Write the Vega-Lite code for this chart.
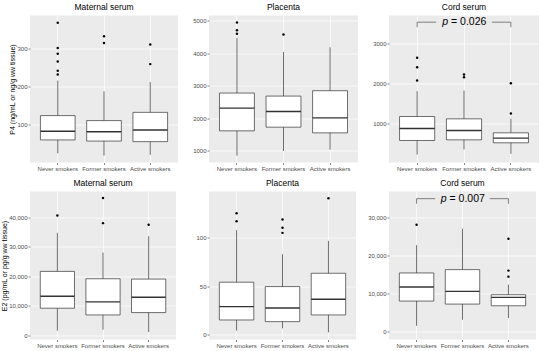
{
  "$schema": "https://vega.github.io/schema/vega-lite/v6.json",
  "padding": {"left": 0, "top": 2.5, "right": 2, "bottom": 4},
  "background": "#FFFFFF",
  "datasets": {
    "all": [
      {"kind":"box","measure":"P4","tissue":"Maternal serum","group":"Never smokers","lower":25,"q1":60,"median":82.5,"q3":123.5,"upper":215},
      {"kind":"box","measure":"P4","tissue":"Maternal serum","group":"Former smokers","lower":19,"q1":57,"median":81.5,"q3":110.5,"upper":187},
      {"kind":"box","measure":"P4","tissue":"Maternal serum","group":"Active smokers","lower":21,"q1":55.5,"median":86,"q3":132,"upper":211},
      {"kind":"box","measure":"P4","tissue":"Placenta","group":"Never smokers","lower":856,"q1":1617,"median":2315,"q3":2778,"upper":4474},
      {"kind":"box","measure":"P4","tissue":"Placenta","group":"Former smokers","lower":1000,"q1":1730,"median":2213,"q3":2685,"upper":4042},
      {"kind":"box","measure":"P4","tissue":"Placenta","group":"Active smokers","lower":1041,"q1":1555,"median":2017,"q3":2850,"upper":4186},
      {"kind":"box","measure":"P4","tissue":"Cord serum","group":"Never smokers","lower":228,"q1":577,"median":876,"q3":1174,"upper":1805},
      {"kind":"box","measure":"P4","tissue":"Cord serum","group":"Former smokers","lower":353,"q1":593,"median":826,"q3":1116,"upper":1822},
      {"kind":"box","measure":"P4","tissue":"Cord serum","group":"Active smokers","lower":245,"q1":519,"median":635,"q3":768,"upper":1116},
      {"kind":"box","measure":"E2","tissue":"Maternal serum","group":"Never smokers","lower":1591,"q1":9205,"median":13295,"q3":21705,"upper":34773},
      {"kind":"box","measure":"E2","tissue":"Maternal serum","group":"Former smokers","lower":1932,"q1":6932,"median":11364,"q3":19205,"upper":28068},
      {"kind":"box","measure":"E2","tissue":"Maternal serum","group":"Active smokers","lower":1136,"q1":7727,"median":12955,"q3":19091,"upper":33636},
      {"kind":"box","measure":"E2","tissue":"Placenta","group":"Never smokers","lower":4.1,"q1":15.1,"median":28.9,"q3":54,"upper":107.6},
      {"kind":"box","measure":"E2","tissue":"Placenta","group":"Former smokers","lower":6.5,"q1":13.4,"median":27.5,"q3":49.5,"upper":82.8},
      {"kind":"box","measure":"E2","tissue":"Placenta","group":"Active smokers","lower":2.4,"q1":20.3,"median":36.4,"q3":63.2,"upper":96.6},
      {"kind":"box","measure":"E2","tissue":"Cord serum","group":"Never smokers","lower":1575,"q1":8049,"median":11724,"q3":15398,"upper":22660},
      {"kind":"box","measure":"E2","tissue":"Cord serum","group":"Former smokers","lower":3150,"q1":7262,"median":10586,"q3":16273,"upper":26947},
      {"kind":"box","measure":"E2","tissue":"Cord serum","group":"Active smokers","lower":3587,"q1":6824,"median":9011,"q3":9711,"upper":12336},
      {"kind":"outlier","measure":"P4","tissue":"Maternal serum","group":"Never smokers","value":366},
      {"kind":"outlier","measure":"P4","tissue":"Maternal serum","group":"Never smokers","value":300},
      {"kind":"outlier","measure":"P4","tissue":"Maternal serum","group":"Never smokers","value":285},
      {"kind":"outlier","measure":"P4","tissue":"Maternal serum","group":"Never smokers","value":265},
      {"kind":"outlier","measure":"P4","tissue":"Maternal serum","group":"Never smokers","value":240.6},
      {"kind":"outlier","measure":"P4","tissue":"Maternal serum","group":"Never smokers","value":231},
      {"kind":"outlier","measure":"P4","tissue":"Maternal serum","group":"Former smokers","value":331},
      {"kind":"outlier","measure":"P4","tissue":"Maternal serum","group":"Former smokers","value":313},
      {"kind":"outlier","measure":"P4","tissue":"Maternal serum","group":"Active smokers","value":309},
      {"kind":"outlier","measure":"P4","tissue":"Maternal serum","group":"Active smokers","value":258},
      {"kind":"outlier","measure":"P4","tissue":"Placenta","group":"Never smokers","value":4947},
      {"kind":"outlier","measure":"P4","tissue":"Placenta","group":"Never smokers","value":4710},
      {"kind":"outlier","measure":"P4","tissue":"Placenta","group":"Never smokers","value":4597},
      {"kind":"outlier","measure":"P4","tissue":"Placenta","group":"Former smokers","value":4577},
      {"kind":"outlier","measure":"P4","tissue":"Cord serum","group":"Never smokers","value":2635},
      {"kind":"outlier","measure":"P4","tissue":"Cord serum","group":"Never smokers","value":2402},
      {"kind":"outlier","measure":"P4","tissue":"Cord serum","group":"Never smokers","value":2071},
      {"kind":"outlier","measure":"P4","tissue":"Cord serum","group":"Former smokers","value":2220},
      {"kind":"outlier","measure":"P4","tissue":"Cord serum","group":"Former smokers","value":2153},
      {"kind":"outlier","measure":"P4","tissue":"Cord serum","group":"Active smokers","value":2004},
      {"kind":"outlier","measure":"P4","tissue":"Cord serum","group":"Active smokers","value":1249},
      {"kind":"outlier","measure":"E2","tissue":"Maternal serum","group":"Never smokers","value":40682},
      {"kind":"outlier","measure":"E2","tissue":"Maternal serum","group":"Former smokers","value":46591},
      {"kind":"outlier","measure":"E2","tissue":"Maternal serum","group":"Former smokers","value":38068},
      {"kind":"outlier","measure":"E2","tissue":"Maternal serum","group":"Active smokers","value":37500},
      {"kind":"outlier","measure":"E2","tissue":"Placenta","group":"Never smokers","value":125},
      {"kind":"outlier","measure":"E2","tissue":"Placenta","group":"Never smokers","value":116.8},
      {"kind":"outlier","measure":"E2","tissue":"Placenta","group":"Former smokers","value":118.6},
      {"kind":"outlier","measure":"E2","tissue":"Placenta","group":"Former smokers","value":110},
      {"kind":"outlier","measure":"E2","tissue":"Placenta","group":"Former smokers","value":104.8},
      {"kind":"outlier","measure":"E2","tissue":"Placenta","group":"Active smokers","value":140.5},
      {"kind":"outlier","measure":"E2","tissue":"Cord serum","group":"Never smokers","value":27997},
      {"kind":"outlier","measure":"E2","tissue":"Cord serum","group":"Active smokers","value":24322},
      {"kind":"outlier","measure":"E2","tissue":"Cord serum","group":"Active smokers","value":16010},
      {"kind":"outlier","measure":"E2","tissue":"Cord serum","group":"Active smokers","value":14436},
      {"kind":"bracket","measure":"P4","tissue":"Cord serum","start":"Never smokers","end":"Active smokers","y":3523,"tip":3398,"symbol":"p","label":"= 0.026"},
      {"kind":"bracket","measure":"E2","tissue":"Cord serum","start":"Never smokers","end":"Active smokers","y":34821,"tip":33509,"symbol":"p","label":"= 0.007"}
    ]
  },
  "bounds": "flush",
  "columns": 3,
  "spacing": {"row": 29, "column": 31},
  "concat": [
    {
      "width": 148, "height": 147,
      "title": "Maternal serum",
      "data": {"name": "all"},
      "transform": [{"filter": "datum.measure === 'P4' && datum.tissue === 'Maternal serum'"}],
      "encoding": {"x": {"field": "group", "type": "nominal", "title": null, "scale": {"domain": ["Never smokers","Former smokers","Active smokers"], "paddingInner": 0.25, "paddingOuter": 0.225}}},
      "layer": [
        {"transform": [{"filter": "datum.kind === 'box'"}], "mark": {"type": "rule", "color": "#333333", "strokeWidth": 0.7},
         "encoding": {"y": {"field": "lower", "type": "quantitative", "title": "P4 (ng/mL or ng/g ww tissue)", "scale": {"domain": [1, 385], "nice": false, "zero": false}, "axis": {"values": [100,200,300], "format": "d", "labelOverlap": false}}, "y2": {"field": "upper"}}},
        {"transform": [{"filter": "datum.kind === 'box'"}], "mark": {"type": "bar", "fill": "#FFFFFF", "stroke": "#333333", "strokeWidth": 0.7},
         "encoding": {"y": {"field": "q1", "type": "quantitative", "title": "P4 (ng/mL or ng/g ww tissue)", "scale": {"domain": [1, 385], "nice": false, "zero": false}, "axis": {"values": [100,200,300], "format": "d", "labelOverlap": false}}, "y2": {"field": "q3"}}},
        {"transform": [{"filter": "datum.kind === 'box'"}], "mark": {"type": "rule", "color": "#333333", "strokeWidth": 1.4},
         "encoding": {"x": {"field": "group", "type": "nominal", "title": null, "bandPosition": 0, "scale": {"domain": ["Never smokers","Former smokers","Active smokers"], "paddingInner": 0.25, "paddingOuter": 0.225}}, "x2": {"field": "group", "bandPosition": 1},
           "y": {"field": "median", "type": "quantitative", "title": "P4 (ng/mL or ng/g ww tissue)", "scale": {"domain": [1, 385], "nice": false, "zero": false}, "axis": {"values": [100,200,300], "format": "d", "labelOverlap": false}}}},
        {"transform": [{"filter": "datum.kind === 'outlier'"}], "mark": {"type": "circle", "color": "#000000", "size": 6, "opacity": 1},
         "encoding": {"y": {"field": "value", "type": "quantitative", "title": "P4 (ng/mL or ng/g ww tissue)", "scale": {"domain": [1, 385], "nice": false, "zero": false}, "axis": {"values": [100,200,300], "format": "d", "labelOverlap": false}}}}
      ]
    },
    {
      "width": 149, "height": 147,
      "title": "Placenta",
      "data": {"name": "all"},
      "transform": [{"filter": "datum.measure === 'P4' && datum.tissue === 'Placenta'"}],
      "encoding": {"x": {"field": "group", "type": "nominal", "title": null, "scale": {"domain": ["Never smokers","Former smokers","Active smokers"], "paddingInner": 0.25, "paddingOuter": 0.225}}},
      "layer": [
        {"transform": [{"filter": "datum.kind === 'box'"}], "mark": {"type": "rule", "color": "#333333", "strokeWidth": 0.7},
         "encoding": {"y": {"field": "lower", "type": "quantitative", "title": null, "scale": {"domain": [645, 5160], "nice": false, "zero": false}, "axis": {"values": [1000,2000,3000,4000,5000], "format": "d", "labelOverlap": false}}, "y2": {"field": "upper"}}},
        {"transform": [{"filter": "datum.kind === 'box'"}], "mark": {"type": "bar", "fill": "#FFFFFF", "stroke": "#333333", "strokeWidth": 0.7},
         "encoding": {"y": {"field": "q1", "type": "quantitative", "title": null, "scale": {"domain": [645, 5160], "nice": false, "zero": false}, "axis": {"values": [1000,2000,3000,4000,5000], "format": "d", "labelOverlap": false}}, "y2": {"field": "q3"}}},
        {"transform": [{"filter": "datum.kind === 'box'"}], "mark": {"type": "rule", "color": "#333333", "strokeWidth": 1.4},
         "encoding": {"x": {"field": "group", "type": "nominal", "title": null, "bandPosition": 0, "scale": {"domain": ["Never smokers","Former smokers","Active smokers"], "paddingInner": 0.25, "paddingOuter": 0.225}}, "x2": {"field": "group", "bandPosition": 1},
           "y": {"field": "median", "type": "quantitative", "title": null, "scale": {"domain": [645, 5160], "nice": false, "zero": false}, "axis": {"values": [1000,2000,3000,4000,5000], "format": "d", "labelOverlap": false}}}},
        {"transform": [{"filter": "datum.kind === 'outlier'"}], "mark": {"type": "circle", "color": "#000000", "size": 6, "opacity": 1},
         "encoding": {"y": {"field": "value", "type": "quantitative", "title": null, "scale": {"domain": [645, 5160], "nice": false, "zero": false}, "axis": {"values": [1000,2000,3000,4000,5000], "format": "d", "labelOverlap": false}}}}
      ]
    },
    {
      "width": 150, "height": 147,
      "title": "Cord serum",
      "data": {"name": "all"},
      "transform": [{"filter": "datum.measure === 'P4' && datum.tissue === 'Cord serum'"}],
      "encoding": {"x": {"field": "group", "type": "nominal", "title": null, "scale": {"domain": ["Never smokers","Former smokers","Active smokers"], "paddingInner": 0.25, "paddingOuter": 0.225}}},
      "layer": [
        {"transform": [{"filter": "datum.kind === 'box'"}], "mark": {"type": "rule", "color": "#333333", "strokeWidth": 0.7},
         "encoding": {"y": {"field": "lower", "type": "quantitative", "title": null, "scale": {"domain": [29, 3689], "nice": false, "zero": false}, "axis": {"values": [1000,2000,3000], "format": "d", "labelOverlap": false}}, "y2": {"field": "upper"}}},
        {"transform": [{"filter": "datum.kind === 'box'"}], "mark": {"type": "bar", "fill": "#FFFFFF", "stroke": "#333333", "strokeWidth": 0.7},
         "encoding": {"y": {"field": "q1", "type": "quantitative", "title": null, "scale": {"domain": [29, 3689], "nice": false, "zero": false}, "axis": {"values": [1000,2000,3000], "format": "d", "labelOverlap": false}}, "y2": {"field": "q3"}}},
        {"transform": [{"filter": "datum.kind === 'box'"}], "mark": {"type": "rule", "color": "#333333", "strokeWidth": 1.4},
         "encoding": {"x": {"field": "group", "type": "nominal", "title": null, "bandPosition": 0, "scale": {"domain": ["Never smokers","Former smokers","Active smokers"], "paddingInner": 0.25, "paddingOuter": 0.225}}, "x2": {"field": "group", "bandPosition": 1},
           "y": {"field": "median", "type": "quantitative", "title": null, "scale": {"domain": [29, 3689], "nice": false, "zero": false}, "axis": {"values": [1000,2000,3000], "format": "d", "labelOverlap": false}}}},
        {"transform": [{"filter": "datum.kind === 'outlier'"}], "mark": {"type": "circle", "color": "#000000", "size": 6, "opacity": 1},
         "encoding": {"y": {"field": "value", "type": "quantitative", "title": null, "scale": {"domain": [29, 3689], "nice": false, "zero": false}, "axis": {"values": [1000,2000,3000], "format": "d", "labelOverlap": false}}}},
        {"transform": [{"filter": "datum.kind === 'bracket'"}], "mark": {"type": "rule", "color": "#333333", "strokeWidth": 0.6},
         "encoding": {"x": {"field": "start", "type": "nominal", "title": null, "scale": {"domain": ["Never smokers","Former smokers","Active smokers"], "paddingInner": 0.25, "paddingOuter": 0.225}},
           "y": {"field": "y", "type": "quantitative", "title": null, "scale": {"domain": [29, 3689], "nice": false, "zero": false}, "axis": {"values": [1000,2000,3000], "format": "d", "labelOverlap": false}}, "y2": {"field": "tip"}}},
        {"transform": [{"filter": "datum.kind === 'bracket'"}], "mark": {"type": "rule", "color": "#333333", "strokeWidth": 0.6},
         "encoding": {"x": {"field": "end", "type": "nominal", "title": null, "scale": {"domain": ["Never smokers","Former smokers","Active smokers"], "paddingInner": 0.25, "paddingOuter": 0.225}},
           "y": {"field": "y", "type": "quantitative", "title": null, "scale": {"domain": [29, 3689], "nice": false, "zero": false}, "axis": {"values": [1000,2000,3000], "format": "d", "labelOverlap": false}}, "y2": {"field": "tip"}}},
        {"transform": [{"filter": "datum.kind === 'bracket'"}], "mark": {"type": "rule", "color": "#333333", "strokeWidth": 0.6},
         "encoding": {"x": {"field": "start", "type": "nominal", "title": null, "bandPosition": 0.5, "scale": {"domain": ["Never smokers","Former smokers","Active smokers"], "paddingInner": 0.25, "paddingOuter": 0.225}}, "x2": {"field": "start", "bandPosition": 1.04},
           "y": {"field": "y", "type": "quantitative", "title": null, "scale": {"domain": [29, 3689], "nice": false, "zero": false}, "axis": {"values": [1000,2000,3000], "format": "d", "labelOverlap": false}}}},
        {"transform": [{"filter": "datum.kind === 'bracket'"}], "mark": {"type": "rule", "color": "#333333", "strokeWidth": 0.6},
         "encoding": {"x": {"field": "end", "type": "nominal", "title": null, "bandPosition": -0.04, "scale": {"domain": ["Never smokers","Former smokers","Active smokers"], "paddingInner": 0.25, "paddingOuter": 0.225}}, "x2": {"field": "end", "bandPosition": 0.5},
           "y": {"field": "y", "type": "quantitative", "title": null, "scale": {"domain": [29, 3689], "nice": false, "zero": false}, "axis": {"values": [1000,2000,3000], "format": "d", "labelOverlap": false}}}},
        {"transform": [{"filter": "datum.kind === 'bracket'"}], "mark": {"type": "text", "font": "Liberation Sans", "fontSize": 10.5, "fontStyle": "italic", "align": "right", "baseline": "middle", "dx": -16, "color": "#000000"},
         "encoding": {"x": {"field": "start", "type": "nominal", "title": null, "bandPosition": 1.8333, "scale": {"domain": ["Never smokers","Former smokers","Active smokers"], "paddingInner": 0.25, "paddingOuter": 0.225}},
           "y": {"field": "y", "type": "quantitative", "title": null, "scale": {"domain": [29, 3689], "nice": false, "zero": false}, "axis": {"values": [1000,2000,3000], "format": "d", "labelOverlap": false}}, "text": {"field": "symbol"}}},
        {"transform": [{"filter": "datum.kind === 'bracket'"}], "mark": {"type": "text", "font": "Liberation Sans", "fontSize": 10.5, "align": "left", "baseline": "middle", "dx": -13, "color": "#000000"},
         "encoding": {"x": {"field": "start", "type": "nominal", "title": null, "bandPosition": 1.8333, "scale": {"domain": ["Never smokers","Former smokers","Active smokers"], "paddingInner": 0.25, "paddingOuter": 0.225}},
           "y": {"field": "y", "type": "quantitative", "title": null, "scale": {"domain": [29, 3689], "nice": false, "zero": false}, "axis": {"values": [1000,2000,3000], "format": "d", "labelOverlap": false}}, "text": {"field": "label"}}}
      ]
    },
    {
      "width": 146, "height": 148,
      "title": "Maternal serum",
      "data": {"name": "all"},
      "transform": [{"filter": "datum.measure === 'E2' && datum.tissue === 'Maternal serum'"}],
      "encoding": {"x": {"field": "group", "type": "nominal", "title": null, "scale": {"domain": ["Never smokers","Former smokers","Active smokers"], "paddingInner": 0.25, "paddingOuter": 0.225}}},
      "layer": [
        {"transform": [{"filter": "datum.kind === 'box'"}], "mark": {"type": "rule", "color": "#333333", "strokeWidth": 0.7},
         "encoding": {"y": {"field": "lower", "type": "quantitative", "title": "E2 (pg/mL or pg/g ww tissue)", "scale": {"domain": [-1400, 48800], "nice": false, "zero": false}, "axis": {"values": [0,10000,20000,30000,40000], "format": ",d", "labelOverlap": false}}, "y2": {"field": "upper"}}},
        {"transform": [{"filter": "datum.kind === 'box'"}], "mark": {"type": "bar", "fill": "#FFFFFF", "stroke": "#333333", "strokeWidth": 0.7},
         "encoding": {"y": {"field": "q1", "type": "quantitative", "title": "E2 (pg/mL or pg/g ww tissue)", "scale": {"domain": [-1400, 48800], "nice": false, "zero": false}, "axis": {"values": [0,10000,20000,30000,40000], "format": ",d", "labelOverlap": false}}, "y2": {"field": "q3"}}},
        {"transform": [{"filter": "datum.kind === 'box'"}], "mark": {"type": "rule", "color": "#333333", "strokeWidth": 1.4},
         "encoding": {"x": {"field": "group", "type": "nominal", "title": null, "bandPosition": 0, "scale": {"domain": ["Never smokers","Former smokers","Active smokers"], "paddingInner": 0.25, "paddingOuter": 0.225}}, "x2": {"field": "group", "bandPosition": 1},
           "y": {"field": "median", "type": "quantitative", "title": "E2 (pg/mL or pg/g ww tissue)", "scale": {"domain": [-1400, 48800], "nice": false, "zero": false}, "axis": {"values": [0,10000,20000,30000,40000], "format": ",d", "labelOverlap": false}}}},
        {"transform": [{"filter": "datum.kind === 'outlier'"}], "mark": {"type": "circle", "color": "#000000", "size": 6, "opacity": 1},
         "encoding": {"y": {"field": "value", "type": "quantitative", "title": "E2 (pg/mL or pg/g ww tissue)", "scale": {"domain": [-1400, 48800], "nice": false, "zero": false}, "axis": {"values": [0,10000,20000,30000,40000], "format": ",d", "labelOverlap": false}}}}
      ]
    },
    {
      "width": 147, "height": 148,
      "title": "Placenta",
      "data": {"name": "all"},
      "transform": [{"filter": "datum.measure === 'E2' && datum.tissue === 'Placenta'"}],
      "encoding": {"x": {"field": "group", "type": "nominal", "title": null, "scale": {"domain": ["Never smokers","Former smokers","Active smokers"], "paddingInner": 0.25, "paddingOuter": 0.225}}},
      "layer": [
        {"transform": [{"filter": "datum.kind === 'box'"}], "mark": {"type": "rule", "color": "#333333", "strokeWidth": 0.7},
         "encoding": {"y": {"field": "lower", "type": "quantitative", "title": null, "scale": {"domain": [-5, 147.4], "nice": false, "zero": false}, "axis": {"values": [0,50,100], "format": "d", "labelOverlap": false}}, "y2": {"field": "upper"}}},
        {"transform": [{"filter": "datum.kind === 'box'"}], "mark": {"type": "bar", "fill": "#FFFFFF", "stroke": "#333333", "strokeWidth": 0.7},
         "encoding": {"y": {"field": "q1", "type": "quantitative", "title": null, "scale": {"domain": [-5, 147.4], "nice": false, "zero": false}, "axis": {"values": [0,50,100], "format": "d", "labelOverlap": false}}, "y2": {"field": "q3"}}},
        {"transform": [{"filter": "datum.kind === 'box'"}], "mark": {"type": "rule", "color": "#333333", "strokeWidth": 1.4},
         "encoding": {"x": {"field": "group", "type": "nominal", "title": null, "bandPosition": 0, "scale": {"domain": ["Never smokers","Former smokers","Active smokers"], "paddingInner": 0.25, "paddingOuter": 0.225}}, "x2": {"field": "group", "bandPosition": 1},
           "y": {"field": "median", "type": "quantitative", "title": null, "scale": {"domain": [-5, 147.4], "nice": false, "zero": false}, "axis": {"values": [0,50,100], "format": "d", "labelOverlap": false}}}},
        {"transform": [{"filter": "datum.kind === 'outlier'"}], "mark": {"type": "circle", "color": "#000000", "size": 6, "opacity": 1},
         "encoding": {"y": {"field": "value", "type": "quantitative", "title": null, "scale": {"domain": [-5, 147.4], "nice": false, "zero": false}, "axis": {"values": [0,50,100], "format": "d", "labelOverlap": false}}}}
      ]
    },
    {
      "width": 147, "height": 148,
      "title": "Cord serum",
      "data": {"name": "all"},
      "transform": [{"filter": "datum.measure === 'E2' && datum.tissue === 'Cord serum'"}],
      "encoding": {"x": {"field": "group", "type": "nominal", "title": null, "scale": {"domain": ["Never smokers","Former smokers","Active smokers"], "paddingInner": 0.25, "paddingOuter": 0.225}}},
      "layer": [
        {"transform": [{"filter": "datum.kind === 'box'"}], "mark": {"type": "rule", "color": "#333333", "strokeWidth": 0.7},
         "encoding": {"y": {"field": "lower", "type": "quantitative", "title": null, "scale": {"domain": [-2000, 36700], "nice": false, "zero": false}, "axis": {"values": [0,10000,20000,30000], "format": ",d", "labelOverlap": false}}, "y2": {"field": "upper"}}},
        {"transform": [{"filter": "datum.kind === 'box'"}], "mark": {"type": "bar", "fill": "#FFFFFF", "stroke": "#333333", "strokeWidth": 0.7},
         "encoding": {"y": {"field": "q1", "type": "quantitative", "title": null, "scale": {"domain": [-2000, 36700], "nice": false, "zero": false}, "axis": {"values": [0,10000,20000,30000], "format": ",d", "labelOverlap": false}}, "y2": {"field": "q3"}}},
        {"transform": [{"filter": "datum.kind === 'box'"}], "mark": {"type": "rule", "color": "#333333", "strokeWidth": 1.4},
         "encoding": {"x": {"field": "group", "type": "nominal", "title": null, "bandPosition": 0, "scale": {"domain": ["Never smokers","Former smokers","Active smokers"], "paddingInner": 0.25, "paddingOuter": 0.225}}, "x2": {"field": "group", "bandPosition": 1},
           "y": {"field": "median", "type": "quantitative", "title": null, "scale": {"domain": [-2000, 36700], "nice": false, "zero": false}, "axis": {"values": [0,10000,20000,30000], "format": ",d", "labelOverlap": false}}}},
        {"transform": [{"filter": "datum.kind === 'outlier'"}], "mark": {"type": "circle", "color": "#000000", "size": 6, "opacity": 1},
         "encoding": {"y": {"field": "value", "type": "quantitative", "title": null, "scale": {"domain": [-2000, 36700], "nice": false, "zero": false}, "axis": {"values": [0,10000,20000,30000], "format": ",d", "labelOverlap": false}}}},
        {"transform": [{"filter": "datum.kind === 'bracket'"}], "mark": {"type": "rule", "color": "#333333", "strokeWidth": 0.6},
         "encoding": {"x": {"field": "start", "type": "nominal", "title": null, "scale": {"domain": ["Never smokers","Former smokers","Active smokers"], "paddingInner": 0.25, "paddingOuter": 0.225}},
           "y": {"field": "y", "type": "quantitative", "title": null, "scale": {"domain": [-2000, 36700], "nice": false, "zero": false}, "axis": {"values": [0,10000,20000,30000], "format": ",d", "labelOverlap": false}}, "y2": {"field": "tip"}}},
        {"transform": [{"filter": "datum.kind === 'bracket'"}], "mark": {"type": "rule", "color": "#333333", "strokeWidth": 0.6},
         "encoding": {"x": {"field": "end", "type": "nominal", "title": null, "scale": {"domain": ["Never smokers","Former smokers","Active smokers"], "paddingInner": 0.25, "paddingOuter": 0.225}},
           "y": {"field": "y", "type": "quantitative", "title": null, "scale": {"domain": [-2000, 36700], "nice": false, "zero": false}, "axis": {"values": [0,10000,20000,30000], "format": ",d", "labelOverlap": false}}, "y2": {"field": "tip"}}},
        {"transform": [{"filter": "datum.kind === 'bracket'"}], "mark": {"type": "rule", "color": "#333333", "strokeWidth": 0.6},
         "encoding": {"x": {"field": "start", "type": "nominal", "title": null, "bandPosition": 0.5, "scale": {"domain": ["Never smokers","Former smokers","Active smokers"], "paddingInner": 0.25, "paddingOuter": 0.225}}, "x2": {"field": "start", "bandPosition": 1.04},
           "y": {"field": "y", "type": "quantitative", "title": null, "scale": {"domain": [-2000, 36700], "nice": false, "zero": false}, "axis": {"values": [0,10000,20000,30000], "format": ",d", "labelOverlap": false}}}},
        {"transform": [{"filter": "datum.kind === 'bracket'"}], "mark": {"type": "rule", "color": "#333333", "strokeWidth": 0.6},
         "encoding": {"x": {"field": "end", "type": "nominal", "title": null, "bandPosition": -0.04, "scale": {"domain": ["Never smokers","Former smokers","Active smokers"], "paddingInner": 0.25, "paddingOuter": 0.225}}, "x2": {"field": "end", "bandPosition": 0.5},
           "y": {"field": "y", "type": "quantitative", "title": null, "scale": {"domain": [-2000, 36700], "nice": false, "zero": false}, "axis": {"values": [0,10000,20000,30000], "format": ",d", "labelOverlap": false}}}},
        {"transform": [{"filter": "datum.kind === 'bracket'"}], "mark": {"type": "text", "font": "Liberation Sans", "fontSize": 10.5, "fontStyle": "italic", "align": "right", "baseline": "middle", "dx": -16, "color": "#000000"},
         "encoding": {"x": {"field": "start", "type": "nominal", "title": null, "bandPosition": 1.8333, "scale": {"domain": ["Never smokers","Former smokers","Active smokers"], "paddingInner": 0.25, "paddingOuter": 0.225}},
           "y": {"field": "y", "type": "quantitative", "title": null, "scale": {"domain": [-2000, 36700], "nice": false, "zero": false}, "axis": {"values": [0,10000,20000,30000], "format": ",d", "labelOverlap": false}}, "text": {"field": "symbol"}}},
        {"transform": [{"filter": "datum.kind === 'bracket'"}], "mark": {"type": "text", "font": "Liberation Sans", "fontSize": 10.5, "align": "left", "baseline": "middle", "dx": -13, "color": "#000000"},
         "encoding": {"x": {"field": "start", "type": "nominal", "title": null, "bandPosition": 1.8333, "scale": {"domain": ["Never smokers","Former smokers","Active smokers"], "paddingInner": 0.25, "paddingOuter": 0.225}},
           "y": {"field": "y", "type": "quantitative", "title": null, "scale": {"domain": [-2000, 36700], "nice": false, "zero": false}, "axis": {"values": [0,10000,20000,30000], "format": ",d", "labelOverlap": false}}, "text": {"field": "label"}}}
      ]
    }
  ],
  "config": {
    "font": "Liberation Sans",
    "view": {"fill": "#EBEBEB", "stroke": null},
    "axis": {"domain": false, "tickColor": "#333333", "tickSize": 2, "tickWidth": 0.6, "labelColor": "#4D4D4D", "labelFontSize": 6, "labelFont": "Liberation Sans", "labelPadding": 1, "gridColor": "#FFFFFF", "gridWidth": 0.7, "titleFont": "Liberation Sans", "titleFontSize": 7, "titleFontWeight": "normal", "titleColor": "#000000", "titlePadding": 1},
    "axisX": {"grid": true, "gridWidth": 0.7, "bandPosition": 0.5, "labelAngle": 0},
    "axisY": {"grid": true},
    "title": {"font": "Liberation Sans", "fontSize": 8.5, "fontWeight": "normal", "color": "#000000", "offset": 4, "anchor": "middle"}
  }
}
